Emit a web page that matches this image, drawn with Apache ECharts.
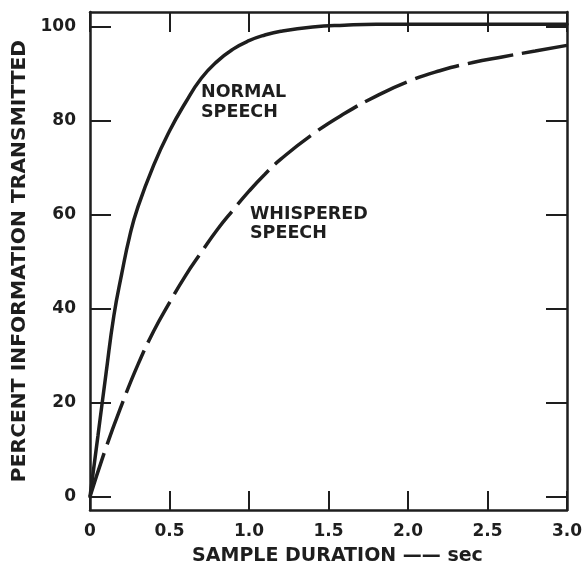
<!DOCTYPE html>
<html>
<head>
<meta charset="utf-8">
<script src="https://cdn.jsdelivr.net/npm/echarts@6/dist/echarts.min.js"></script>
<style>
html,body{margin:0;padding:0;background:#fff;}
#c{width:586px;height:567px;}
</style>
</head>
<body>
<div id="c"></div>
<script>
// ---- data ----
const xTicks = [0, 0.5, 1, 1.5, 2, 2.5, 3];
const xTickLabels = ['0', '0.5', '1.0', '1.5', '2.0', '2.5', '3.0'];
const yTicks = [0, 20, 40, 60, 80, 100];
const yTickLabels = ['0', '20', '40', '60', '80', '100'];

const normalT = [0, 0.05, 0.1, 0.15, 0.2, 0.25, 0.3, 0.4, 0.5, 0.6, 0.7, 0.8, 0.9, 1.0, 1.1, 1.2, 1.4, 1.6, 1.8, 2.0, 2.5, 3.0];
const normalV = [0, 13, 26, 38.5, 47.5, 55.5, 61.5, 70.5, 77.8, 83.8, 89, 92.6, 95.2, 97, 98.2, 99, 99.9, 100.3, 100.5, 100.5, 100.5, 100.5];

const whisperT = [0, 0.1, 0.2, 0.3, 0.4, 0.5, 0.6, 0.7, 0.8, 0.9, 1.0, 1.1, 1.2, 1.4, 1.6, 1.8, 2.0, 2.2, 2.4, 2.6, 2.8, 3.0];
const whisperV = [0, 10.4, 19.6, 28, 35.2, 41.3, 47, 52, 56.8, 61, 65, 68.6, 71.8, 77.1, 81.5, 85.2, 88.3, 90.6, 92.3, 93.6, 94.8, 96];

const xTitle = 'SAMPLE DURATION —— sec';
const yTitle = 'PERCENT INFORMATION TRANSMITTED';
const normalName = 'NORMAL\nSPEECH';
const whisperName = 'WHISPERED\nSPEECH';

// ---- chart ----
const INK = '#1e1e1e';
const FONT = 'DejaVu Sans';
const chart = echarts.init(document.getElementById('c'), null, {renderer: 'canvas'});

function xLabel(v) {
  for (let i = 0; i < xTicks.length; i++) if (Math.abs(xTicks[i] - v) < 1e-6) return xTickLabels[i];
  return '';
}
function yLabel(v) {
  for (let i = 0; i < yTicks.length; i++) if (Math.abs(yTicks[i] - v) < 1e-6) return yTickLabels[i];
  return '';
}

const axisLine = {show: true, onZero: false, lineStyle: {color: INK, width: 2.5}};
const tickStyle = {color: INK, width: 2};

chart.setOption({
  animation: false,
  backgroundColor: '#fff',
  grid: {left: 90, right: 19, top: 12, bottom: 57, containLabel: false, outerBoundsMode: 'none'},
  xAxis: [{
    type: 'value', min: 0, max: 3, interval: 0.5, position: 'bottom',
    axisLine: axisLine,
    axisTick: {show: true, inside: true, length: 19, lineStyle: tickStyle, customValues: xTicks},
    axisLabel: {show: true, margin: 13, color: INK, fontFamily: FONT, fontWeight: 'bold', fontSize: 17,
      customValues: xTicks, formatter: xLabel},
    splitLine: {show: false},
    name: xTitle, nameLocation: 'middle', nameGap: 37,
    nameTextStyle: {color: INK, fontFamily: FONT, fontWeight: 'bold', fontSize: 19, padding: [0, 0, 0, 18]}
  }, {
    type: 'value', min: 0, max: 3, interval: 0.5, position: 'top',
    axisLine: axisLine,
    axisTick: {show: true, inside: true, length: 20, lineStyle: tickStyle, customValues: xTicks},
    axisLabel: {show: false},
    splitLine: {show: false}
  }],
  yAxis: [{
    type: 'value', min: -2.8, max: 103.1, position: 'left',
    axisLine: axisLine,
    axisTick: {show: true, inside: true, length: 21, lineStyle: tickStyle, customValues: yTicks},
    axisLabel: {show: true, margin: 14, color: INK, fontFamily: FONT, fontWeight: 'bold', fontSize: 17,
      customValues: yTicks, formatter: yLabel},
    splitLine: {show: false},
    name: yTitle, nameLocation: 'middle', nameGap: 47, nameRotate: 90,
    nameTextStyle: {color: INK, fontFamily: FONT, fontWeight: 'bold', fontSize: 20.3}
  }, {
    type: 'value', min: -2.8, max: 103.1, position: 'right',
    axisLine: axisLine,
    axisTick: {show: true, inside: true, length: 21, lineStyle: tickStyle, customValues: yTicks},
    axisLabel: {show: false},
    splitLine: {show: false}
  }],
  series: [{
    type: 'line', name: 'NORMAL SPEECH', xAxisIndex: 0, yAxisIndex: 0,
    data: normalT.map((t, i) => [t, normalV[i]]),
    smooth: 0.5, showSymbol: false, symbol: 'none',
    lineStyle: {color: INK, width: 3.5, cap: 'round'}
  }, {
    type: 'line', name: 'WHISPERED SPEECH', xAxisIndex: 0, yAxisIndex: 0,
    data: whisperT.map((t, i) => [t, whisperV[i]]),
    smooth: 0.5, showSymbol: false, symbol: 'none',
    lineStyle: {color: INK, width: 3.5, type: [46, 9], cap: 'butt'}
  }],
  graphic: [{
    type: 'text', left: 201, top: 82,
    style: {text: normalName, fill: INK, font: 'bold 17.5px "DejaVu Sans"', lineHeight: 20}
  }, {
    type: 'text', left: 250, top: 205,
    style: {text: whisperName, fill: INK, font: 'bold 17.5px "DejaVu Sans"', lineHeight: 19}
  }]
});
</script>
</body>
</html>
